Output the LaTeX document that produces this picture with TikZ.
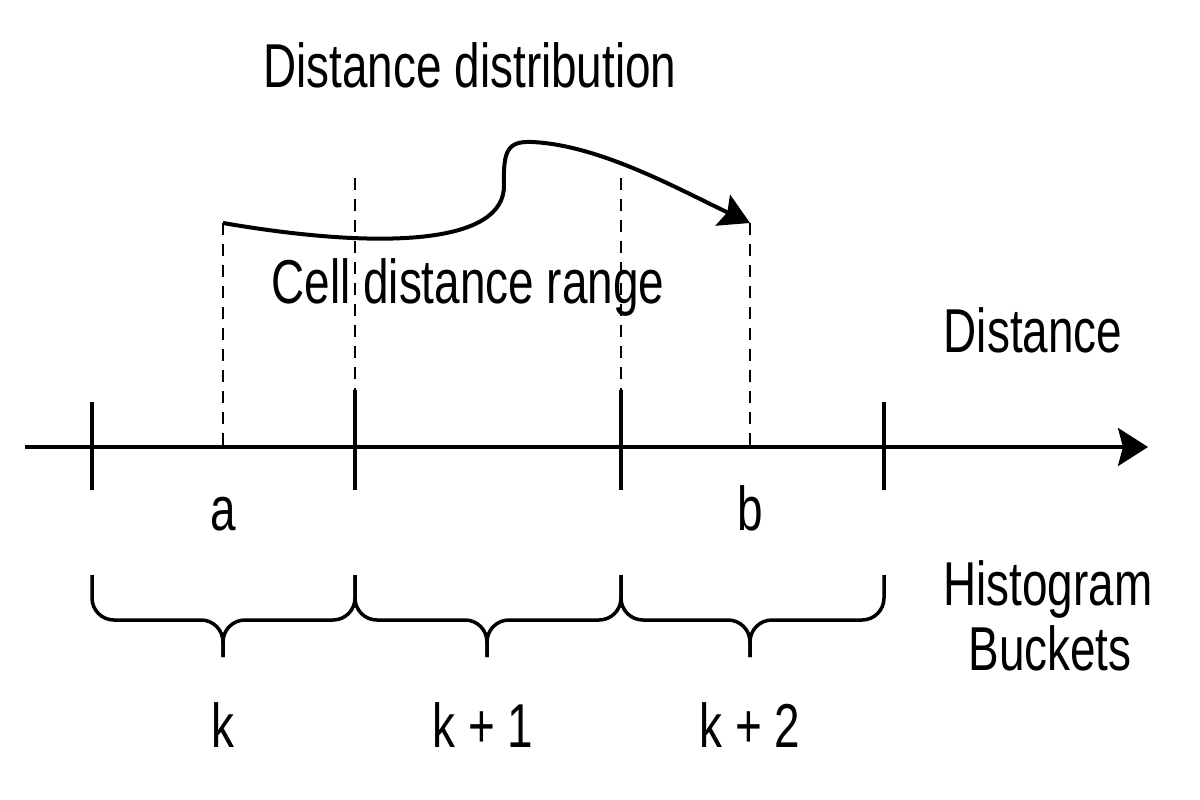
\documentclass[tikz,border=0pt]{standalone}
\usepackage{fontspec}
\setmainfont{Liberation Sans}[FakeStretch=0.74]
\usetikzlibrary{arrows.meta}

\begin{document}
\begin{tikzpicture}
[x=1pt, y=-1pt, every node/.style={inner sep=0pt, anchor=base, font=\fontsize{62}{70}\selectfont},
 axis/.style={line width=3.5pt, color=black},
 guide/.style={line width=2.5pt, color=black, dash pattern=on 12pt off 9pt},
 bucket/.style={line width=3.5pt, color=black, rounded corners=22pt}]
\useasboundingbox (0,0) rectangle (1200,800);
\coordinate (o) at (25,447);
\coordinate (e) at (1148,447);
\coordinate (a) at (223,447);
\coordinate (b) at (750,447);
\coordinate (atop) at (223,223);
\coordinate (btop) at (750,223);
\coordinate (c1) at (355,447);
\coordinate (c1top) at (355,178);
\coordinate (c2) at (621,447);
\coordinate (c2top) at (621,178);
\node (title) at (470,88) {Distance distribution};
\node (range) at (468,303) {Cell distance range};
\node (dist) at (1033,352) {Distance};
\node (la) at (223,530) {a};
\node (lb) at (750,530) {b};
\node (hist) at (1048,605) {Histogram};
\node (buck) at (1050,670) {Buckets};
\node (k0) at (223,747) {k};
\node (k1) at (483,747) {k + 1};
\node (k2) at (750,747) {k + 2};
% distance axis and bucket edges
\draw [axis, -{Stealth[length=30pt, width=38pt, inset=5pt]}] (o) -- (e);
\draw [axis] (92,402) -- (92,490);
\draw [axis] (355,390) -- (355,490);
\draw [axis] (621,390) -- (621,490);
\draw [axis] (884,402) -- (884,490);
\draw [guide] (c1top) -- (355,390);
\draw [guide] (c2top) -- (621,390);
\draw [guide] (atop) -- (a);
\draw [guide] (btop) -- (b);
% distribution curve
\draw [line width=4pt, -{Stealth[length=30pt, width=34pt, inset=5pt]}] (atop) .. controls (380,250) and (505,245) .. (504,185) .. controls (503,150) and (508,141) .. (532,142) .. controls (600,145) and (680,190) .. (btop);
% buckets
\draw [bucket] (92,575) -- (92,620) -- (223,620) -- (223,657);
\draw [bucket] (355,575) -- (355,620) -- (223,620) -- (223,657);
\draw [bucket] (355,575) -- (355,620) -- (487,620) -- (487,657);
\draw [bucket] (621,575) -- (621,620) -- (487,620) -- (487,657);
\draw [bucket] (621,575) -- (621,620) -- (750,620) -- (750,657);
\draw [bucket] (884,575) -- (884,620) -- (750,620) -- (750,657);
\end{tikzpicture}
\end{document}
